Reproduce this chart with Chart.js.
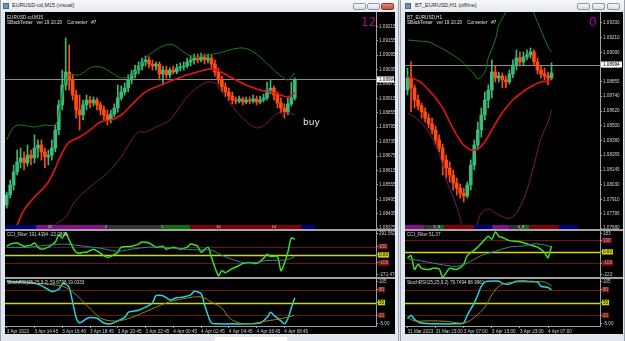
<!DOCTYPE html>
<html>
<head>
<meta charset="utf-8">
<script src="https://cdn.jsdelivr.net/npm/chart.js@4.4.0/dist/chart.umd.min.js"></script>
<style>
  body { margin:0; width:625px; height:341px; overflow:hidden; background:#d9e1ea; position:relative; font-family:'Liberation Sans', Arial, sans-serif; }
  .win { position:absolute; top:0; height:341px; background:#e3e8ee; border-left:1px solid #98a4b2; border-right:1px solid #98a4b2; box-sizing:border-box; }
  .bar { position:absolute; top:0; height:12px; background:linear-gradient(#f7f8fa,#e4e8ee); }
  .black { position:absolute; top:12px; height:322px; background:#000; }
  .ttl { position:absolute; top:2px; font-size:11px; color:#2a2a2a; transform:scale(.5); transform-origin:left top; white-space:nowrap; }
  .btn { position:absolute; top:3px; width:13px; height:7px; border:1px solid #8e99a6; border-radius:2px; background:linear-gradient(#f6f7f9,#d8dee6); box-sizing:border-box; }
  .ico { position:absolute; top:3px; width:6px; height:6px; background:#6f8fb8; border:1px solid #4a6a90; box-sizing:border-box; }
  .sep { position:absolute; height:2px; background:#a3a3a3; }
  .big { position:absolute; font-size:12px; color:#a0108e; font-family:'DejaVu Sans', sans-serif; }
  canvas { position:absolute; }
</style>
</head>
<body>
<div class="win" style="left:0;width:399px"></div>
<div class="win" style="left:400px;width:225px"></div>
<div class="bar" style="left:1px;width:397px"></div>
<div class="bar" style="left:401px;width:223px"></div>
<div class="ico" style="left:3px"></div>
<div class="ico" style="left:405px"></div>
<div class="ttl" style="left:12px">EURUSD-cd,M15 (visual)</div>
<div class="ttl" style="left:415px">BT_EURUSD,H1 (offline)</div>
<div class="btn" style="left:353px"></div>
<div class="btn" style="left:367px"></div>
<div class="btn" style="left:381px;background:linear-gradient(#e08a78,#c4503a);border-color:#8a3a2a"></div>
<div class="btn" style="left:577px"></div>
<div class="btn" style="left:592px"></div>
<div class="btn" style="left:607px"></div>
<div class="black" style="left:5px;width:390px"></div>
<div class="black" style="left:405px;width:218px"></div>
<div style="position:absolute;left:215px;top:337px;width:72px;height:4px;background:#fff"></div>

<canvas id="lMain" width="390" height="217" style="left:5px;top:12px"></canvas>
<div class="sep" style="left:5px;top:229px;width:390px"></div>
<canvas id="lCci" width="390" height="46" style="left:5px;top:231px"></canvas>
<div class="sep" style="left:5px;top:277px;width:390px"></div>
<canvas id="lSto" width="390" height="55" style="left:5px;top:279px"></canvas>

<canvas id="rMain" width="218" height="217" style="left:405px;top:12px"></canvas>
<div class="sep" style="left:405px;top:229px;width:218px"></div>
<canvas id="rCci" width="218" height="46" style="left:405px;top:231px"></canvas>
<div class="sep" style="left:405px;top:277px;width:218px"></div>
<canvas id="rSto" width="218" height="55" style="left:405px;top:279px"></canvas>

<div class="big" style="left:361px;top:15px">12</div>
<div class="big" style="left:589px;top:15px;color:#b000c8">0</div>
<div style="position:absolute;left:303px;top:117px;font-size:9px;color:#e6e6e6;font-family:'DejaVu Sans',sans-serif">buy</div>

<script>
// ---- left window: EURUSD M15, bars 0..83 ----
const leftOpen = [1.08471,1.08513,1.08554,1.08608,1.08650,1.08667,1.08646,1.08679,1.08667,1.08708,1.08721,1.08692,1.08671,1.08679,1.08708,1.08783,1.08888,1.08971,1.09025,1.08992,1.08929,1.08867,1.08846,1.08888,1.08908,1.08896,1.08908,1.08888,1.08867,1.08846,1.08825,1.08850,1.08875,1.08917,1.08942,1.08958,1.08992,1.09017,1.09033,1.09050,1.09067,1.09075,1.09058,1.09050,1.09058,1.09017,1.09033,1.09013,1.09033,1.09025,1.09042,1.09046,1.09050,1.09067,1.09075,1.09083,1.09075,1.09088,1.09075,1.09083,1.09058,1.09025,1.08992,1.08963,1.08942,1.08925,1.08908,1.08904,1.08913,1.08900,1.08908,1.08904,1.08913,1.08900,1.08908,1.08917,1.08950,1.08958,1.08929,1.08896,1.08875,1.08858,1.08892,1.08917];
const leftHigh = [1.08525,1.08575,1.08638,1.08700,1.08708,1.08692,1.08721,1.08700,1.08763,1.08742,1.08742,1.08708,1.08700,1.08742,1.08804,1.08908,1.09033,1.09167,1.09138,1.09013,1.08950,1.08929,1.08908,1.08929,1.08925,1.08921,1.08917,1.08900,1.08883,1.08867,1.08867,1.08892,1.08971,1.08967,1.08979,1.09013,1.09033,1.09054,1.09067,1.09083,1.09092,1.09088,1.09075,1.09067,1.09067,1.09050,1.09050,1.09042,1.09050,1.09058,1.09063,1.09067,1.09083,1.09092,1.09100,1.09100,1.09104,1.09100,1.09100,1.09096,1.09075,1.09042,1.09008,1.08979,1.08958,1.08942,1.08921,1.08925,1.08921,1.08921,1.08921,1.08929,1.08925,1.08925,1.08933,1.08983,1.08992,1.08967,1.08942,1.08917,1.08892,1.08917,1.08983,1.09000];
const leftLow = [1.08458,1.08500,1.08533,1.08596,1.08625,1.08617,1.08633,1.08638,1.08646,1.08667,1.08658,1.08625,1.08638,1.08658,1.08692,1.08763,1.08867,1.08950,1.08950,1.08908,1.08833,1.08783,1.08825,1.08867,1.08875,1.08883,1.08867,1.08846,1.08825,1.08804,1.08813,1.08838,1.08858,1.08908,1.08929,1.08942,1.08975,1.09000,1.09017,1.09033,1.09050,1.09042,1.09033,1.09033,1.08992,1.08971,1.09000,1.09000,1.09017,1.09017,1.09029,1.09033,1.09042,1.09050,1.09058,1.09063,1.09067,1.09058,1.09063,1.09042,1.09008,1.08975,1.08942,1.08921,1.08908,1.08892,1.08892,1.08896,1.08888,1.08892,1.08892,1.08896,1.08888,1.08892,1.08900,1.08908,1.08933,1.08908,1.08875,1.08854,1.08833,1.08846,1.08883,1.08908];
const leftClose = [1.08513,1.08554,1.08608,1.08650,1.08667,1.08646,1.08679,1.08667,1.08708,1.08721,1.08692,1.08671,1.08679,1.08708,1.08783,1.08888,1.08971,1.09025,1.08992,1.08929,1.08867,1.08846,1.08888,1.08908,1.08896,1.08908,1.08888,1.08867,1.08846,1.08825,1.08850,1.08875,1.08917,1.08942,1.08958,1.08992,1.09017,1.09033,1.09050,1.09067,1.09075,1.09058,1.09050,1.09058,1.09017,1.09033,1.09013,1.09033,1.09025,1.09042,1.09046,1.09050,1.09067,1.09075,1.09083,1.09075,1.09088,1.09075,1.09083,1.09058,1.09025,1.08992,1.08963,1.08942,1.08925,1.08908,1.08904,1.08913,1.08900,1.08908,1.08904,1.08913,1.08900,1.08908,1.08917,1.08950,1.08958,1.08929,1.08896,1.08875,1.08858,1.08892,1.08917,1.08992];
// bands: [bar, price]
const leftUpper = [[0,1.08742],[2,1.08796],[4,1.08804],[8,1.08796],[11,1.08804],[14,1.08804],[15,1.08854],[16,1.08929],[17,1.08992],[18,1.09013],[21,1.09013],[24,1.09042],[27,1.09046],[30,1.09025],[33,1.09000],[36,1.09013],[38,1.09042],[40,1.09083],[43,1.09117],[46,1.09138],[48,1.09138],[51,1.09108],[53,1.09092],[56,1.09092],[61,1.09104],[67,1.09125],[70,1.09117],[73,1.09088],[76,1.09046],[79,1.09008],[81,1.08992],[83,1.09021]];
const leftMid = [[2,1.08358],[3,1.08388],[5,1.08450],[8,1.08504],[12,1.08567],[16,1.08688],[18,1.08733],[21,1.08754],[24,1.08783],[27,1.08817],[30,1.08825],[33,1.08846],[36,1.08888],[40,1.08942],[43,1.08963],[48,1.08992],[52,1.09013],[56,1.09029],[59,1.09038],[61,1.09029],[65,1.09000],[69,1.08971],[73,1.08950],[76,1.08942],[79,1.08929],[81,1.08921],[83,1.08938]];
const leftLower = [[13,1.08358],[14,1.08388],[17,1.08421],[20,1.08492],[24,1.08546],[29,1.08604],[33,1.08671],[36,1.08742],[38,1.08775],[40,1.08775],[43,1.08796],[47,1.08825],[50,1.08883],[53,1.08938],[56,1.08971],[58,1.08983],[60,1.08979],[62,1.08942],[65,1.08883],[68,1.08833],[72,1.08792],[75,1.08813],[78,1.08854],[81,1.08854],[83,1.08846]];
const leftPriceTicks = [1.08375,1.08435,1.08495,1.08555,1.08615,1.08675,1.08735,1.08795,1.08855,1.08915,1.08975,1.09035,1.09095,1.09155,1.09215];
const leftTimeTicks = [0,8,16,24,32,40,48,56,64,72,80];
const leftTimeLabels = ['3 Apr 2023','3 Apr 14:45','3 Apr 16:45','3 Apr 18:45','3 Apr 20:45','3 Apr 22:45','4 Apr 00:45','4 Apr 02:45','4 Apr 04:45','4 Apr 06:45','4 Apr 08:45'];
const leftCci = [[0,106],[1,131],[3,144],[5,106],[7,119],[8,144],[9,94],[10,69],[12,94],[14,156],[15,244],[16,206],[17,269],[18,181],[19,94],[20,31],[21,19],[22,31],[23,31],[25,69],[27,19],[29,-31],[30,-19],[32,31],[33,94],[36,106],[38,131],[39,156],[41,144],[43,94],[45,106],[46,69],[48,94],[50,69],[52,94],[53,131],[55,106],[56,31],[58,94],[59,-31],[61,-256],[62,-194],[63,-219],[65,-169],[67,-131],[68,-106],[70,-94],[72,-106],[74,-44],[75,6],[76,-19],[78,-19],[79,-194],[80,-106],[81,31],[82,206],[83,191]];
const leftCciSignal = [[0,94],[5,90],[8,100],[12,119],[17,131],[22,106],[27,81],[32,44],[36,69],[41,94],[46,90],[51,69],[56,60],[59,56],[62,-6],[65,-56],[68,-94],[72,-94],[75,-69],[78,-69],[81,-56],[83,-22]];
const leftStoch = [[0,100],[4,98],[7,97],[9,93],[11,85],[13,76],[15,81],[16,93],[17,93],[18,85],[19,51],[20,15],[21,2],[23,12],[24,15],[26,13],[28,2],[30,0],[32,7],[34,15],[35,27],[36,29],[38,32],[40,39],[42,49],[43,66],[45,66],[47,56],[49,61],[51,63],[53,68],[54,76],[56,71],[57,44],[58,20],[59,2],[61,0],[65,0],[69,0],[73,2],[75,15],[76,27],[77,20],[79,7],[80,0],[81,12],[82,37],[83,61]];
const leftStochSignal = [[0,98],[8,95],[13,92],[17,85],[20,68],[23,44],[26,20],[28,10],[32,7],[36,15],[41,32],[46,49],[51,59],[56,63],[59,51],[62,37],[64,15],[67,2],[71,1],[75,7],[79,12],[83,20]];
// session strip: [fromBar, toBar, session]
const leftSessions = [[-0.3,8.5,0],[8.5,28.6,1],[28.6,44.8,2],[44.8,52.9,3],[52.9,84.8,4],[84.8,88.9,0]];
const leftSessionMarks = [[12.5,'22'],[28.6,'2'],[44.8,'5'],[61,'10'],[77,'14']];

// ---- right window: BT_EURUSD H1, bars 0..41 ----
const rightOpen = [1.08789,1.08886,1.08806,1.08709,1.08661,1.08613,1.08564,1.08516,1.08468,1.08387,1.08323,1.08227,1.08162,1.08106,1.08042,1.08001,1.07961,1.07937,1.08026,1.08186,1.08347,1.08468,1.08588,1.08709,1.08789,1.08934,1.08886,1.08902,1.08870,1.08854,1.08918,1.08990,1.09047,1.09015,1.09055,1.09071,1.09095,1.09015,1.08950,1.08918,1.08902,1.08886];
const rightHigh = [1.08966,1.09015,1.08830,1.08749,1.08685,1.08645,1.08597,1.08564,1.08500,1.08428,1.08355,1.08267,1.08211,1.08146,1.08082,1.08034,1.08001,1.08050,1.08227,1.08387,1.08532,1.08645,1.08773,1.08830,1.09031,1.08982,1.08934,1.08926,1.08902,1.08950,1.09031,1.09111,1.09095,1.09095,1.09111,1.09127,1.09111,1.09047,1.08982,1.08966,1.08934,1.09008];
const rightLow = [1.08749,1.08613,1.08645,1.08629,1.08564,1.08532,1.08484,1.08436,1.08347,1.08291,1.08106,1.08082,1.08050,1.07985,1.07945,1.07921,1.07889,1.07921,1.07985,1.08146,1.08307,1.08411,1.08548,1.08645,1.08725,1.08854,1.08854,1.08806,1.08806,1.08838,1.08886,1.08950,1.08982,1.08990,1.09031,1.09047,1.08990,1.08918,1.08886,1.08870,1.08830,1.08870];
const rightClose = [1.08886,1.08806,1.08709,1.08661,1.08613,1.08564,1.08516,1.08468,1.08387,1.08323,1.08227,1.08162,1.08106,1.08042,1.08001,1.07961,1.07937,1.08026,1.08186,1.08347,1.08468,1.08588,1.08709,1.08789,1.08934,1.08886,1.08902,1.08870,1.08854,1.08918,1.08990,1.09047,1.09015,1.09055,1.09071,1.09095,1.09015,1.08950,1.08918,1.08902,1.08886,1.08926];
const rightUpper = [[0,1.09191],[3,1.09183],[6,1.09175],[9,1.09135],[12,1.09087],[15,1.09031],[17,1.08974],[19,1.08918],[20,1.08878],[22,1.08934],[23,1.09047],[25,1.09191],[26,1.09312],[28,1.09417],[30,1.09553],[32,1.09609],[35,1.09553],[36,1.09408],[38,1.09272],[40,1.09135],[41,1.09095]];
const rightMid = [[0,1.08894],[2,1.08878],[4,1.08846],[6,1.08789],[8,1.08725],[10,1.08645],[12,1.08532],[14,1.08428],[16,1.08347],[18,1.08307],[20,1.08315],[22,1.08371],[24,1.08468],[26,1.08564],[28,1.08645],[30,1.08709],[32,1.08757],[34,1.08797],[36,1.08830],[38,1.08854],[40,1.08862],[41,1.08878]];
const rightLower = [[0,1.08605],[2,1.08572],[5,1.08492],[8,1.08347],[10,1.08186],[11,1.08066],[13,1.07929],[14,1.07849],[15,1.07761],[16,1.07648],[17,1.07567],[18,1.07583],[19,1.07648],[20,1.07728],[21,1.07801],[23,1.07833],[25,1.07801],[28,1.07761],[30,1.07769],[32,1.07849],[34,1.07985],[36,1.08186],[38,1.08403],[40,1.08532],[41,1.08629]];
const rightPriceTicks = [1.07680,1.07795,1.07910,1.08030,1.08145,1.08265,1.08380,1.08500,1.08620,1.08740,1.08855,1.08975,1.09090,1.09210,1.09330];
const rightTimeTicks = [0,8,16,24,32,40];
const rightTimeLabels = ['31 Mar 2023','31 Mar 23:00','3 Apr 07:00','3 Apr 15:00','3 Apr 23:00','4 Apr 07:00'];
const rightCci = [[0,-53],[1,-34],[2,-157],[3,-110],[4,-147],[6,-157],[7,-147],[9,-150],[10,-223],[12,-147],[14,-157],[16,-110],[17,-34],[19,13],[20,41],[22,107],[23,136],[24,110],[25,174],[26,136],[27,126],[29,98],[32,89],[35,60],[37,41],[38,20],[39,-6],[40,-53],[41,51]];
const rightCciSignal = [[0,-62],[4,-81],[9,-110],[14,-129],[17,-100],[21,-34],[25,4],[29,41],[33,51],[36,70],[39,60],[41,41]];
const rightStoch = [[0,12],[1,20],[2,10],[4,2],[8,0],[14,0],[16,2],[17,20],[19,49],[20,68],[21,88],[22,98],[23,100],[26,100],[27,95],[29,93],[31,100],[34,100],[35,99],[37,98],[38,88],[40,85],[41,80]];
const rightStochSignal = [[0,15],[2,7],[6,7],[11,6],[16,2],[19,15],[22,39],[24,68],[26,88],[28,95],[31,98],[35,98],[39,98],[41,89]];
const rightSessions = [[-0.7,4.8,1],[4.8,8.8,2],[8.8,10.5,3],[10.5,18.9,4],[18.9,24.1,0],[24.1,29,1],[29,32.6,2],[32.6,34.7,3],[34.7,43.1,4],[43.1,48.6,0]];
const rightSessionMarks = [[8.3,'3_8'],[32.3,'6_8']];

const bidPrice = 1.08994;
const cciLevels = [100, 0, -100];
const stochLevels = [80, 50, 20];

const sessionColors = ['#00007c', '#82108a', '#333333', '#0a6e0a', '#7e0000'];
const bull = '#3cb878', bear = '#ff4c10';
const fontFam = "'Liberation Sans', Arial, sans-serif";

Chart.defaults.font.family = fontFam;
Chart.defaults.font.size = 4.6;
Chart.defaults.color = '#d0d0d0';
Chart.defaults.animation = false;
Chart.defaults.events = [];
Chart.defaults.plugins.legend.display = false;
Chart.defaults.plugins.tooltip.enabled = false;

const pts = a => a.map(p => ({x: p[0], y: p[1]}));

function valueAxis(min, max, values, labels, width, levels, inset) {
  const pad = (max - min) * inset;
  const isLevel = i => levels.includes(values[i]);
  const isMid = i => levels.length && values[i] === levels[1];
  return {
    type: 'linear', position: 'right', min: min, max: max,
    afterBuildTicks: sc => { sc.ticks = values.map(v => ({value: Math.min(max - pad, Math.max(min + pad, v))})); },
    afterFit: sc => { sc.width = width; sc.paddingTop = 0; sc.paddingBottom = 0; },
    ticks: {
      autoSkip: false, padding: 1,
      callback: (v, i) => labels[i],
      showLabelBackdrop: c => isLevel(c.index),
      backdropColor: c => isMid(c.index) ? '#d4d400' : '#7a1414',
      backdropPadding: {top: 0, bottom: 0, left: 1, right: 1},
      color: c => isLevel(c.index) ? (isMid(c.index) ? '#000' : '#e59a9a') : '#d0d0d0'
    },
    grid: {drawOnChartArea: false, tickLength: 2, color: '#a0a0a0'},
    border: {color: '#a0a0a0'}
  };
}

function line(data, color, w) {
  return {type: 'line', data: pts(data), borderColor: color, borderWidth: w, pointRadius: 0, tension: 0.35, clip: 0, order: 0};
}

function priceChart(id, s) {
  const cols = s.close.map((c, i) => c >= s.open[i] ? bull : bear);
  const decor = {
    id: 'decor',
    beforeDatasetsDraw(ch) {
      const {ctx, chartArea: a, scales: {y}} = ch;
      const py = Math.round(y.getPixelForValue(bidPrice)) + 0.5;
      ctx.save();
      ctx.strokeStyle = '#8c8c8c'; ctx.lineWidth = 1;
      ctx.beginPath(); ctx.moveTo(a.left, py); ctx.lineTo(a.right, py); ctx.stroke();
      ctx.restore();
    },
    afterDatasetsDraw(ch) {
      const {ctx, chartArea: a, scales: {x}} = ch;
      ctx.save();
      s.sessions.forEach(g => {
        const x0 = x.getPixelForValue(g[0]), x1 = x.getPixelForValue(g[1]);
        ctx.fillStyle = sessionColors[g[2]];
        ctx.fillRect(x0, a.bottom - 4, x1 - x0, 4);
      });
      ctx.fillStyle = '#d8d8d8'; ctx.font = '4px ' + fontFam;
      ctx.textAlign = 'center'; ctx.textBaseline = 'middle';
      s.marks.forEach(m => ctx.fillText(m[1], x.getPixelForValue(m[0]), a.bottom - 2));
      ctx.restore();
    },
    afterDraw(ch) {
      const {ctx, chartArea: a, scales: {y}} = ch;
      ctx.save();
      ctx.fillStyle = '#e0e0e0'; ctx.font = '4.6px ' + fontFam;
      ctx.textAlign = 'left'; ctx.textBaseline = 'top';
      ctx.fillText(s.head1, a.left + 2, a.top + 3);
      ctx.fillText(s.head2, a.left + 2, a.top + 8);
      const py = y.getPixelForValue(bidPrice);
      ctx.fillStyle = '#ffffff';
      ctx.fillRect(a.right + 1, py - 3, ch.width - a.right - 2, 6);
      ctx.fillStyle = '#000'; ctx.textBaseline = 'middle';
      ctx.fillText(bidPrice.toFixed(5), a.right + 3, py + 0.3);
      ctx.restore();
    }
  };
  return new Chart(document.getElementById(id), {
    type: 'bar',
    data: {datasets: [
      line(s.upper, '#1d7a1d', 1),
      line(s.lower, '#7c145e', 1),
      line(s.mid, '#e41414', 1.6),
      {data: s.close.map((c, i) => ({x: i, y: [s.open[i], c]})), backgroundColor: cols, barThickness: 3, minBarLength: 1, grouped: false, order: 1},
      {data: s.close.map((c, i) => ({x: i, y: [s.low[i], s.high[i]]})), backgroundColor: cols, barThickness: 1, grouped: false, order: 2}
    ]},
    options: {
      responsive: false, layout: {padding: 0},
      scales: {
        x: {type: 'linear', display: false, offset: false, min: s.xMin, max: s.xMax},
        y: valueAxis(s.yMin, s.yMax, s.ticks, s.ticks.map(v => v.toFixed(5)), s.axisW, [], 0)
      }
    },
    plugins: [decor]
  });
}

function indicatorChart(id, s) {
  const decor = {
    id: 'levels',
    beforeDatasetsDraw(ch) {
      const {ctx, chartArea: a, scales: {y}} = ch;
      ctx.save();
      s.levels.forEach((v, i) => {
        const py = Math.round(y.getPixelForValue(v)) + 0.5;
        ctx.strokeStyle = i === 1 ? '#d6d600' : '#741212';
        ctx.lineWidth = i === 1 ? 1.5 : 1;
        ctx.beginPath(); ctx.moveTo(a.left, py); ctx.lineTo(a.right, py); ctx.stroke();
      });
      ctx.restore();
    },
    afterDatasetsDraw(ch) {
      const {ctx, chartArea: a} = ch;
      ctx.save();
      ctx.fillStyle = '#d8d8d8'; ctx.font = '4.6px ' + fontFam;
      ctx.textAlign = 'left'; ctx.textBaseline = 'top';
      ctx.fillText(s.label, a.left + 2, a.top + 1);
      ctx.restore();
    }
  };
  const x = {type: 'linear', offset: false, min: s.xMin, max: s.xMax, display: false};
  if (s.timeTicks) {
    Object.assign(x, {
      display: true, position: 'bottom',
      afterBuildTicks: sc => { sc.ticks = s.timeTicks.map(v => ({value: v})); },
      afterFit: sc => { sc.height = 8; sc.paddingLeft = 0; sc.paddingRight = 0; },
      ticks: {callback: (v, i) => s.timeLabels[i], align: 'start', autoSkip: false, maxRotation: 0, minRotation: 0, padding: 1},
      grid: {drawOnChartArea: false, tickLength: 2, color: '#a0a0a0'},
      border: {color: '#a0a0a0'}
    });
  }
  return new Chart(document.getElementById(id), {
    type: 'line',
    data: {datasets: [
      {data: pts(s.signal), borderColor: s.colors[1], borderWidth: 1, pointRadius: 0, tension: 0.35, clip: 0},
      {data: pts(s.main), borderColor: s.colors[0], borderWidth: 1.5, pointRadius: 0, tension: 0.25, clip: 0}
    ]},
    options: {
      responsive: false, layout: {padding: 0},
      scales: {x: x, y: valueAxis(s.yMin, s.yMax, s.ticks, s.tickLabels, s.axisW, s.levels, 0.05)}
    },
    plugins: [decor]
  });
}

const L = {xMin: -0.49, xMax: 106.4, axisW: 19};
const R = {xMin: -0.72, xMax: 54.8, axisW: 23};

priceChart('lMain', Object.assign({}, L, {
  open: leftOpen, high: leftHigh, low: leftLow, close: leftClose,
  upper: leftUpper, mid: leftMid, lower: leftLower,
  yMin: 1.08371, yMax: 1.09275, ticks: leftPriceTicks,
  sessions: leftSessions, marks: leftSessionMarks,
  head1: 'EURUSD-cd,M15', head2: 'SBackTester   ver 19.10.20    Converter   #7'
}));
indicatorChart('lCci', Object.assign({}, L, {
  main: leftCci, signal: leftCciSignal, colors: ['#3ae31e', '#238b9c'],
  yMin: -271.4743, yMax: 291.5624, levels: cciLevels,
  ticks: [291.5624, 100, 0, -100, -271.4743], tickLabels: ['291.5624', '100', '0.00', '-100', '-271.4743'],
  label: 'CCI_Filter 191.4394 -22.0906'
}));
indicatorChart('lSto', Object.assign({}, L, {
  main: leftStoch, signal: leftStochSignal, colors: ['#22d4e8', '#8e8a12'],
  yMin: -5, yMax: 105, levels: stochLevels,
  ticks: [105, 80, 50, 20, -5], tickLabels: ['105', '80', '50', '20', '-5.00'],
  label: 'StochRSI(25,25,9,2) 59.8798 19.0333',
  timeTicks: leftTimeTicks, timeLabels: leftTimeLabels
}));

priceChart('rMain', Object.assign({}, R, {
  open: rightOpen, high: rightHigh, low: rightLow, close: rightClose,
  upper: rightUpper, mid: rightMid, lower: rightLower,
  yMin: 1.07672, yMax: 1.09416, ticks: rightPriceTicks,
  sessions: rightSessions, marks: rightSessionMarks,
  head1: 'BT_EURUSD,H1', head2: 'SBackTester   ver 19.10.20    Converter   #7'
}));
indicatorChart('rCci', Object.assign({}, R, {
  main: rightCci, signal: rightCciSignal, colors: ['#3ae31e', '#238b9c'],
  yMin: -223, yMax: 183, levels: cciLevels,
  ticks: [183, 100, 0, -100, -223], tickLabels: ['183', '100', '0.00', '-100', '-223'],
  label: 'CCI_Filter 51.37'
}));
indicatorChart('rSto', Object.assign({}, R, {
  main: rightStoch, signal: rightStochSignal, colors: ['#22d4e8', '#8e8a12'],
  yMin: -5, yMax: 105, levels: stochLevels,
  ticks: [105, 80, 50, 20, -5], tickLabels: ['105', '80', '50', '20', '-5.00'],
  label: 'StochRSI(25,25,9,2) 79.7494 88.9961',
  timeTicks: rightTimeTicks, timeLabels: rightTimeLabels
}));
</script>
</body>
</html>
